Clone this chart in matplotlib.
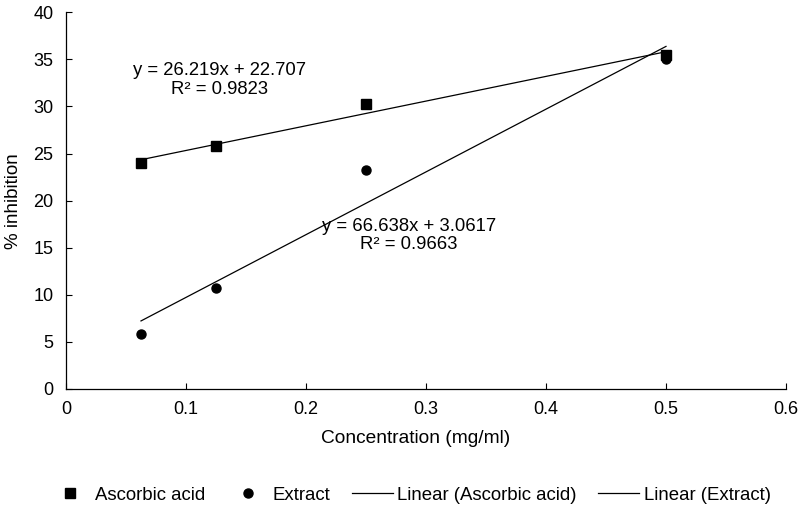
import matplotlib
matplotlib.use("Agg")
import matplotlib.pyplot as plt
import numpy as np

plt.rcParams['font.family'] = ['Liberation Sans', 'DejaVu Sans']

concentration = [0.0625, 0.125, 0.25, 0.5]
ascorbic = [24.0, 25.8, 30.3, 35.5]
extract = [5.8, 10.7, 23.3, 35.0]

asc_fit = (26.219, 22.707)
ext_fit = (66.638, 3.0617)
asc_r2 = 0.9823
ext_r2 = 0.9663

x_ticks = [0, 0.1, 0.2, 0.3, 0.4, 0.5, 0.6]
y_ticks = [0, 5, 10, 15, 20, 25, 30, 35, 40]

fig = plt.figure(figsize=(8.0, 5.09), dpi=100)
ax = fig.add_axes([0.0825, 0.2358, 0.9, 0.740])

x = np.array(concentration)
h1, = ax.plot(x, ascorbic, linestyle='none', marker='s', color='black', markersize=6.5,
              label='Ascorbic acid', zorder=3)
h2, = ax.plot(x, extract, linestyle='none', marker='o', color='black', markersize=6.5,
              label='Extract', zorder=3)
xr = np.array([x.min(), x.max()])
h3, = ax.plot(xr, asc_fit[0] * xr + asc_fit[1], color='black', linewidth=0.9,
              label='Linear (Ascorbic acid)')
h4, = ax.plot(xr, ext_fit[0] * xr + ext_fit[1], color='black', linewidth=0.9,
              label='Linear (Extract)')

ax.text(0.128, 32.8, f"y = {asc_fit[0]}x + {asc_fit[1]}\nR² = {asc_r2}", ha='center', va='center',
        fontsize=13.3, linespacing=1.15, multialignment='center')
ax.text(0.286, 16.3, f"y = {ext_fit[0]}x + {ext_fit[1]}\nR² = {ext_r2}", ha='center', va='center',
        fontsize=13.3, linespacing=1.15, multialignment='center')

ax.set_xlim(0, 0.6)
ax.set_ylim(0, 40)
ax.set_xticks(x_ticks)
ax.set_xticklabels([f"{t:g}" for t in x_ticks])
ax.set_yticks(y_ticks)
ax.tick_params(labelsize=13, direction='in', length=4, width=0.8, colors='black')
ax.tick_params(axis='x', pad=9)
ax.tick_params(axis='y', pad=9)
for s in ['top', 'right']:
    ax.spines[s].set_visible(False)
for s in ['left', 'bottom']:
    ax.spines[s].set_linewidth(0.9)
    ax.spines[s].set_color('black')

ax.set_xlabel('Concentration (mg/ml)', fontsize=13.8)
ax.xaxis.set_label_coords(0.485, -0.108)
ax.set_ylabel('% inhibition', fontsize=13.5, labelpad=8)

fig.legend(handles=[h1, h2, h3, h4], loc='center', bbox_to_anchor=(0.513, 0.027), ncol=4,
           frameon=False, fontsize=13.4, handlelength=2.2, columnspacing=1.15,
           handletextpad=0.25, numpoints=1)

fig.savefig('out.png', dpi=100)
